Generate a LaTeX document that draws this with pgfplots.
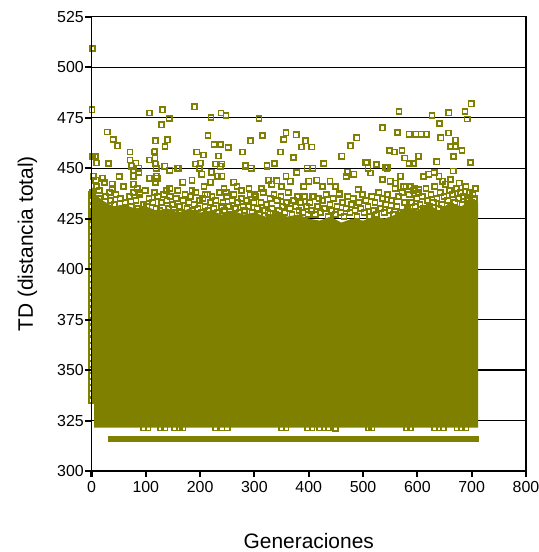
\documentclass[border=0pt]{standalone}
\usepackage{fontspec}
\setmainfont{Liberation Sans}
\usepackage{pgfplots}
\pgfplotsset{compat=1.18}
\definecolor{olv}{RGB}{128,128,0}
\begin{document}
\begin{tikzpicture}
\begin{axis}[
  scale only axis, width=434.5bp, height=454.3bp,
  at={(0,0)}, anchor=south west,
  xmin=0, xmax=800, ymin=300, ymax=525,
  xtick={0,100,...,800}, ytick={300,325,...,525},
  ymajorgrids, grid style={black, line width=1.1bp},
  axis line style={black, line width=1.2bp},
  tick align=outside,
  major tick length=5bp,
  every tick/.style={black, line width=1.8bp},
  tick pos=left,
  /pgf/number format/assume math mode=true,
  ticklabel style={font=\fontsize{16}{19}\selectfont},
  yticklabel style={inner sep=0pt, xshift=-2.5bp},
  xticklabel style={inner sep=0pt, yshift=-5bp},
  xlabel={Generaciones}, ylabel={TD (distancia total)},
  label style={font=\fontsize{21}{25}\selectfont},
  x label style={at={(axis description cs:0.5,0)}, anchor=base, yshift=-77bp},
  y label style={at={(axis description cs:0,0.5)}, anchor=base, yshift=58.5bp},
]
% dense core of the population (overlapping markers)
\addplot[draw=none, fill=olv] coordinates {
(5,321.5) (712,321.5) (712,433) (700,434) (680,431) (660,433) (640,429) (620,432)
(600,429) (580,431) (560,427) (540,425) (520,426) (500,424) (480,425) (460,423)
(440,426) (420,424) (400,425) (380,427) (360,426) (340,428) (320,426) (300,428)
(280,427) (260,429) (240,427) (220,429) (200,428) (180,430) (160,428) (140,430)
(120,429) (100,431) (80,430) (60,432) (40,431) (20,434) (8,437) (0,441)
(0,334) (5,334) (5,321.5)} -- cycle;
% individual solutions
\addplot[only marks, mark=square, mark size=2.6bp, mark options={draw=olv, line width=1.6bp}] coordinates {
(0.5,335) (0.5,338) (0.5,341) (0.5,344) (0.5,347) (0.5,350) (0.5,353) (0.5,356)
(0.5,359) (0.5,362) (0.5,365) (0.5,368) (0.5,371) (0.5,374) (0.5,377) (0.5,380)
(0.5,383) (0.5,386) (0.5,389) (0.5,392) (0.5,395) (0.5,398) (0.5,401) (0.5,404)
(0.5,407) (0.5,410) (0.5,413) (0.5,416) (0.5,419) (0.5,422) (0.5,425) (0.5,428)
(0.5,431) (0.5,434) (0.5,437)
(2,438) (6,433) (11,430) (15,435) (18,428) (3,427) (9,441) (14,439)
(22,431) (26,436) (31,429) (35,434) (38,440) (28,427)
(42,432) (45,437) (49,428) (53,435) (57,430) (59,441)
(62,433) (66,429) (70,436) (73,431) (77,438) (79,427)
(82,434) (85,430) (89,437) (93,428) (96,432) (99,439)
(102,431) (106,435) (109,428) (113,433) (116,438) (119,430)
(122,436) (126,429) (129,433) (133,437) (136,428) (139,434)
(142,430) (145,436) (149,432) (153,428) (156,435) (159,439)
(162,431) (165,428) (169,434) (172,437) (176,430) (179,433)
(182,436) (185,429) (189,432) (192,438) (196,430) (199,434)
(202,428) (205,435) (209,431) (213,437) (216,429) (219,433)
(222,436) (225,430) (229,434) (232,428) (236,438) (239,431)
(242,433) (245,429) (249,436) (252,431) (256,427) (259,434)
(262,437) (265,430) (269,433) (272,428) (276,435) (279,431)
(282,429) (285,434) (289,431) (292,437) (296,428) (299,433)
(302,436) (305,430) (309,427) (312,433) (316,438) (319,429)
(322,432) (325,428) (329,435) (332,430) (336,437) (339,427)
(342,434) (345,429) (349,436) (352,431) (356,428) (359,433)
(362,438) (365,430) (369,427) (372,434) (376,431) (379,436)
(382,429) (385,433) (389,428) (392,436) (396,431) (399,427)
(402,433) (405,429) (409,436) (412,427) (416,431) (419,435)
(422,428) (425,434) (429,430) (432,437) (436,426) (439,432)
(442,429) (445,435) (449,427) (452,431) (456,437) (459,428)
(462,433) (465,426) (469,430) (472,436) (476,428) (479,432)
(482,435) (485,429) (489,426) (492,433) (496,430) (499,437)
(502,428) (505,434) (509,431) (512,426) (516,436) (519,429)
(522,433) (525,427) (529,438) (532,430) (536,435) (539,428)
(542,432) (545,437) (549,429) (552,434) (556,427) (559,440)
(562,431) (565,436) (569,428) (572,438) (576,433) (579,441)
(582,430) (585,437) (589,433) (592,439) (596,431) (599,435)
(602,438) (605,432) (609,436) (612,430) (616,440) (619,434)
(622,431) (625,437) (629,433) (632,441) (636,435) (639,430)
(642,438) (645,432) (649,436) (652,442) (656,434) (659,439)
(662,431) (665,437) (669,433) (672,440) (676,435) (679,438)
(682,432) (685,436) (689,441) (692,434) (696,438) (699,433)
(702,437) (705,435) (707,440) (704,431)
(4,446) (8,444) (20,445) (24,443) (33,438) (38,442) (51,446) (71,454) (74,451)
(77,449) (77,446) (77,442) (84,440) (89,438) (87,450) (87,448) (107,445) (107,454)
(116,458) (117,455) (118,452) (120,446) (119,450) (121,445) (118,443) (135,451)
(144,449) (144,440) (138,439) (158,450) (168,443) (185,444) (185,439) (192,452)
(194,458) (199,450) (203,447) (207,441) (209,437) (219,443) (221,448) (228,452)
(232,446) (237,451) (240,446) (244,440) (248,438) (262,443) (268,441) (276,439)
(284,451) (290,440) (294,450) (300,437) (313,440) (323,451) (326,444)
(332,442) (341,443.7) (350,441) (358,446) (366,443.5) (378,447.8) (391,441)
(400,443.5) (406,436) (415,444) (425,441) (439,443.5) (449,441) (456,437.7)
(471,448) (469,446) (483,447) (491,439.4) (505,452.6) (509,450) (514,447.6)
(525,451.8) (536,444.4) (544,450) (550,443.5) (560,442.6) (569,446) (575,441)
(587,441) (595,440) (603,439.5) (612,446) (621,447) (631,447.8) (640,446)
(646,443.5) (661,444.4) (666,448.6) (677,442.6) (680,437.7) (692,435) (707,439.8)
(2,509.2) (1,478.9) (29,467.9) (40,464.1) (47.6,461.1) (106.7,477.3) (131,478.9)
(143,474.5) (128.8,471.5) (140,464) (117.7,463.5) (135.3,460.7) (189.7,480.4)
(219.9,475) (238.4,477.3) (247.6,476.1) (214.4,466.2) (225.5,461.8) (237.3,461.8)
(251.8,460.3) (308.5,474.5) (314.6,466.2) (292.4,463.5) (278.3,458) (283.8,451.4)
(323,451.4) (71,458) (117,458.3) (194,458) (200,452.5) (199,449.6) (206.5,456.5)
(234,456) (240,452) (161,450) (2,455.7) (6,455.7) (8,455.7) (9,452.5) (31,452.3)
(51,445.7) (82,452.5)
(566,478.1) (627,476) (657.7,477.4) (641,472.2) (687.8,478.1) (699,481.9)
(691.7,474.3) (536,470) (563.7,467.7) (585,466.8) (597.5,466.8) (607,466.8)
(617,466.8) (358,467.5) (354,464.2) (377,466.5) (394,463.5) (386.7,460.5)
(405.5,460.5) (347.8,458) (371.8,455.2) (336.7,452.3) (427.7,452.3) (397,450)
(408,450) (461,455.9) (477,461.1) (488.6,465) (549,458.8) (557.6,458) (571.7,458.8)
(577,455) (602.4,455.9) (635.6,453.1) (666.4,455.5) (667,456) (682.3,458.8)
(670,460.8) (661.7,460.8) (657,467.4) (670,463.9) (643,465) (697.4,452.6)
(698.5,453) (507.7,453) (525,451.8) (541.5,450.3) (545,450.3) (585,452.3)
(592.6,452.3) (610.7,445.6)
(96,321.4) (104,321.4) (127,321.4) (135,321.4) (153,321.4) (162,321.4) (168,321.4)
(228,321.4) (240,321.4) (250,321.4) (350,321.4) (358,321.4) (398,321.4) (406,321.4)
(420,321.4) (428,321.4) (436,321.4) (449,321.1) (510,321.4) (516,321.4) (580,321.4)
(587,321.4) (632,321.4) (640,321.4) (648,321.4) (673,321.4) (681,321.4) (689,321.4)
};
% best solution band
\addplot[olv, line width=6.7bp] coordinates {(30.4,315.8) (713,315.8)};
\end{axis}
% overlay axis carrying only the outward tick marks
\begin{axis}[
  scale only axis, width=434.5bp, height=454.3bp,
  at={(0,0)}, anchor=south west,
  xmin=0, xmax=800, ymin=300, ymax=525,
  xtick={0,100,...,800}, ytick={300,325,...,525},
  xticklabels={}, yticklabels={},
  axis line style={black, line width=1.2bp},
  tick align=outside,
  major tick length=6bp,
  every tick/.style={black, line width=2bp},
  tick pos=left,
]
\end{axis}
\pgfresetboundingbox
\path[use as bounding box] (-91.5bp,-81bp) rectangle (447.5bp,471bp);
\end{tikzpicture}
\end{document}
